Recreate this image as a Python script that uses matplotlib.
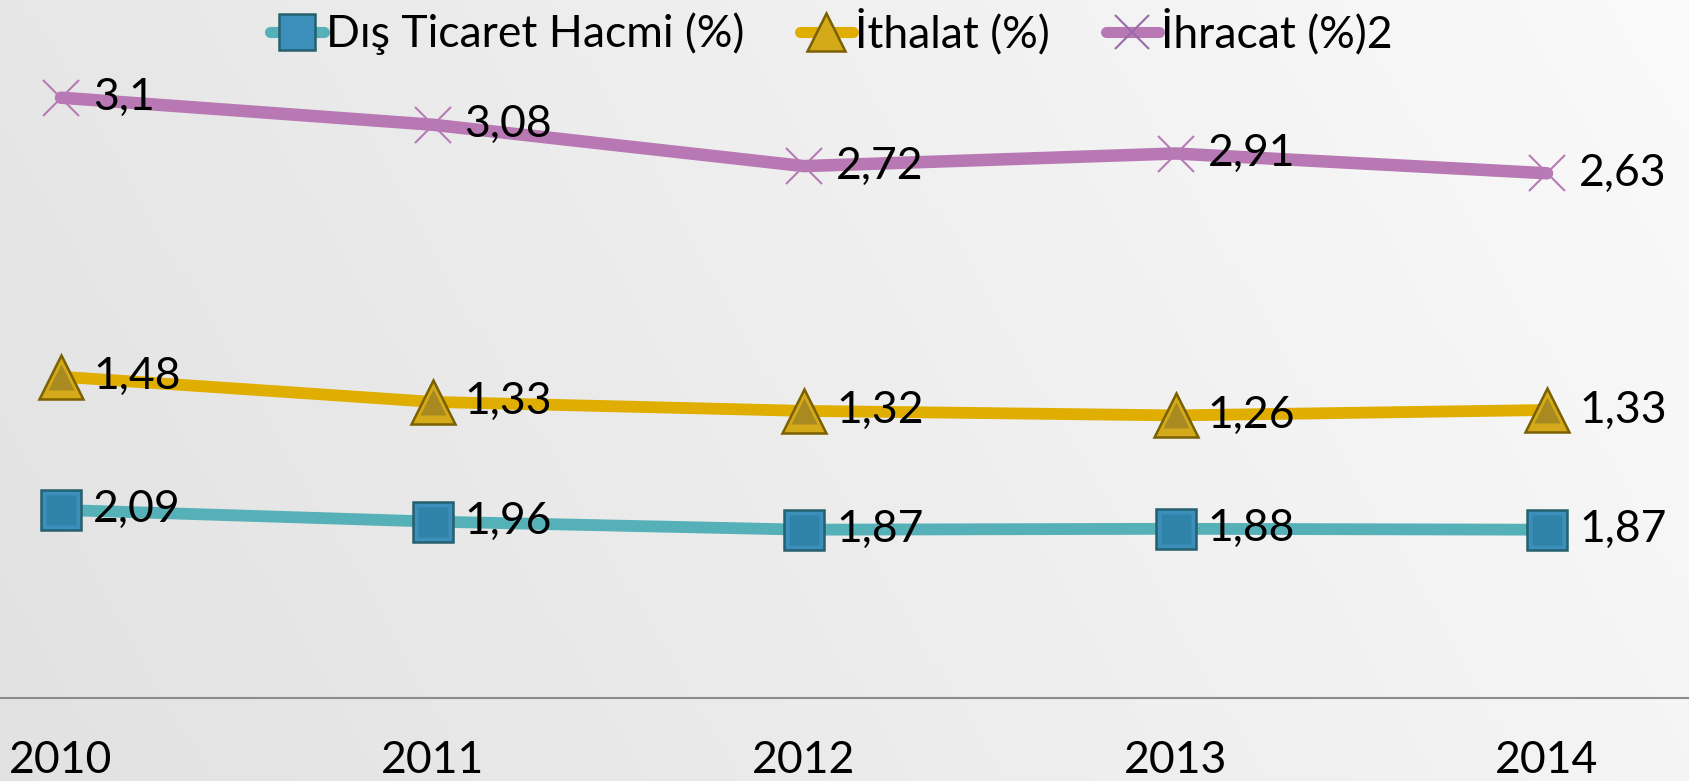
import matplotlib
matplotlib.use("Agg")
import matplotlib.pyplot as plt
import numpy as np
from matplotlib.lines import Line2D

years = ["2010", "2011", "2012", "2013", "2014"]
dis_ticaret = [2.09, 1.96, 1.87, 1.88, 1.87]
ithalat = [1.48, 1.33, 1.32, 1.26, 1.33]
ihracat = [3.1, 3.08, 2.72, 2.91, 2.63]
series_names = ["Dış Ticaret Hacmi (%)", "İthalat (%)", "İhracat (%)2"]

plt.rcParams['font.family'] = ['Lato', 'DejaVu Sans']
FS = 32

fig = plt.figure(figsize=(16.9, 7.81), dpi=100)

# background gradient
bg = fig.add_axes([0, 0, 1, 1], zorder=-10)
gx = np.linspace(0, 1, 200)
gy = np.linspace(0, 1, 100)
GX, GY = np.meshgrid(gx, gy)
val = 0.885 + 0.075 * GX + 0.02 * (1 - GY)
val = np.clip(val, 0, 1)
bg.imshow(np.dstack([val, val, val]), extent=[0, 1, 0, 1], aspect='auto', origin='upper')
bg.axis('off')

ax = fig.add_axes([0, 83 / 781, 1, 698 / 781])
ax.patch.set_alpha(0)
x = np.arange(len(years))
ax.set_xlim(-61 / 371.5, 4 + (1690 - 1547) / 371.5)
ax.set_ylim(0, 698 / 90)

c1 = np.array(dis_ticaret)
c2 = c1 + np.array(ithalat)
c3 = c2 + np.array(ihracat)

teal, gold, purple = "#55B0B8", "#E0AE00", "#B878B3"

ax.plot(x, c1, color=teal, lw=8.5, solid_capstyle='round', zorder=2)
ax.plot(x, c2, color=gold, lw=8.5, solid_capstyle='round', zorder=2)
ax.plot(x, c3, color=purple, lw=9, solid_capstyle='round', zorder=2)

# markers with simple bevel look
ax.plot(x, c1, ls='none', marker='s', ms=29, mfc="#3C8FBA", mec="#25606E", mew=1.8, zorder=4)
ax.plot(x, c1, ls='none', marker='s', ms=21, mfc="#2F82A8", mec="none", zorder=5)
ax.plot(x, c2, ls='none', marker='^', ms=31, mfc="#D4AA1A", mec="#7A6000", mew=1.8, zorder=4)
ax.plot(x, c2, ls='none', marker='^', ms=19, mfc="#A88A20", mec="none", zorder=5)
ax.plot(x, c3, ls='none', marker='x', ms=26, mec="#B77BB5", mew=1.5, zorder=4)

for vals, cum in ((dis_ticaret, c1), (ithalat, c2), (ihracat, c3)):
    for xi, v, cy in zip(x, vals, cum):
        lab = ("%g" % v).replace('.', ',')
        ax.annotate(lab, (xi, cy), xytext=(23, 0), textcoords='offset points',
                    ha='left', va='center', fontsize=FS, color='black', zorder=6)

for s in ['top', 'right', 'left']:
    ax.spines[s].set_visible(False)
ax.spines['bottom'].set_color('#8C8C8C')
ax.spines['bottom'].set_linewidth(1.5)
ax.set_yticks([])
ax.set_xticks(x)
ax.set_xticklabels(years, fontsize=FS)
ax.tick_params(axis='x', length=0, pad=30)

handles = [
    Line2D([], [], color=teal, lw=8, solid_capstyle='round', marker='s', ms=26, mfc="#3C8FBA", mec="#25606E", mew=1.8),
    Line2D([], [], color=gold, lw=8, solid_capstyle='round', marker='^', ms=28, mfc="#D4AA1A", mec="#7A6000", mew=1.8),
    Line2D([], [], color=purple, lw=8, solid_capstyle='round', marker='x', ms=24, mec="#9B6AA8", mew=1.5),
]
fig.legend(handles, series_names, loc='center', bbox_to_anchor=(0.492, 1 - 32 / 781), ncol=3,
           frameon=False, fontsize=FS, handlelength=1.2, handletextpad=0.05, columnspacing=1.25,
           borderaxespad=0)

fig.savefig("out.png", dpi=100)
